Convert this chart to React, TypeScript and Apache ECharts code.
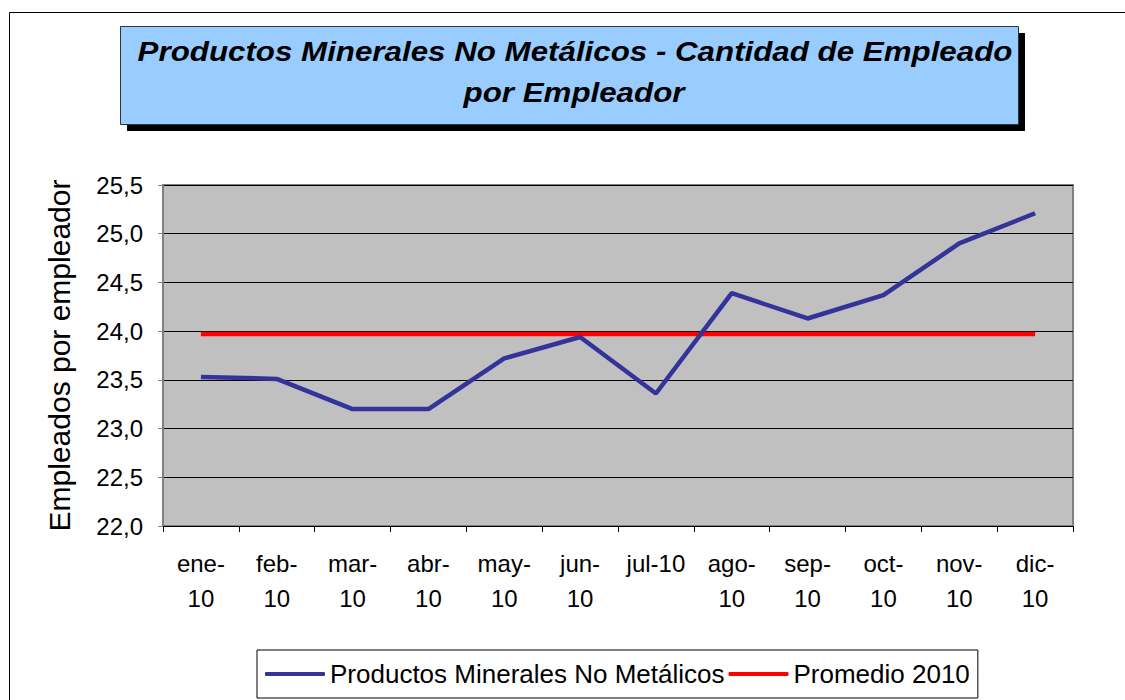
import React, { useEffect, useRef } from "react";
import * as echarts from "echarts";

const categories = ["ene-\n10", "feb-\n10", "mar-\n10", "abr-\n10", "may-\n10", "jun-\n10", "jul-10", "ago-\n10", "sep-\n10", "oct-\n10", "nov-\n10", "dic-\n10"];
const productosValues = [23.53, 23.51, 23.2, 23.2, 23.72, 23.94, 23.36, 24.39, 24.13, 24.37, 24.9, 25.21];
const promedioValues = [23.97, 23.97, 23.97, 23.97, 23.97, 23.97, 23.97, 23.97, 23.97, 23.97, 23.97, 23.97];
const seriesNames = ["Productos Minerales No Metálicos", "Promedio 2010"];
const titleLines = ["Productos Minerales No Metálicos - Cantidad de Empleado", "por Empleador"];
const yAxisName = "Empleados por empleador";

const FONT = "Arial, 'Liberation Sans', sans-serif";

export default function App() {
  const ref = useRef<HTMLDivElement>(null);
  useEffect(() => {
    if (!ref.current) return;
    const chart = echarts.init(ref.current, null, { renderer: "svg" });
    const titleStyle = {
      fontFamily: FONT,
      fontSize: 27,
      fontWeight: "bold",
      fontStyle: "italic",
      fill: "#000",
      align: "center",
      verticalAlign: "middle",
    };
    chart.setOption({
      animation: false,
      backgroundColor: "#ffffff",
      graphic: [
        {
          type: "rect",
          z: -10,
          silent: true,
          shape: { x: 9.5, y: 12.5, width: 1300, height: 900 },
          style: { fill: "none", stroke: "#000", lineWidth: 1 },
        },
        {
          type: "rect",
          z: 10,
          shape: { x: 127, y: 33, width: 898, height: 98 },
          style: { fill: "#000" },
        },
        {
          type: "rect",
          z: 11,
          shape: { x: 120.5, y: 26.5, width: 898, height: 98 },
          style: { fill: "#99CCFF", stroke: "#333", lineWidth: 1 },
        },
        {
          type: "text",
          z: 12,
          x: 575,
          y: 52,
          scaleX: 1.16,
          style: { ...titleStyle, text: titleLines[0] },
        },
        {
          type: "text",
          z: 12,
          x: 574,
          y: 93,
          scaleX: 1.16,
          style: { ...titleStyle, text: titleLines[1] },
        },
      ],
      grid: {
        left: 163,
        right: 52,
        top: 185,
        bottom: 174,
        show: true,
        backgroundColor: "#C0C0C0",
        borderColor: "#808080",
        borderWidth: 2,
      },
      legend: {
        left: 257,
        top: 650,
        padding: [11, 8, 11, 8],
        borderColor: "#000",
        borderWidth: 1,
        itemWidth: 60,
        itemHeight: 4,
        itemGap: 4,
        icon: "roundRect",
        textStyle: { fontFamily: FONT, fontSize: 26, color: "#000", padding: [0, 0, 0, 0] },
        data: seriesNames,
      },
      xAxis: {
        type: "category",
        data: categories,
        boundaryGap: true,
        axisLine: { lineStyle: { color: "#000", width: 1 } },
        axisTick: { show: true, inside: false, length: 6, lineStyle: { color: "#000" }, alignWithLabel: false },
        axisLabel: {
          interval: 0,
          fontFamily: FONT,
          fontSize: 24,
          color: "#000",
          lineHeight: 35,
          margin: 20,
        },
        splitLine: { show: false },
      },
      yAxis: {
        type: "value",
        min: 22,
        max: 25.5,
        interval: 0.5,
        name: yAxisName,
        nameLocation: "middle",
        nameGap: 89,
        nameRotate: 90,
        nameTextStyle: { fontFamily: FONT, fontSize: 30, color: "#000" },
        axisLine: { show: true, lineStyle: { color: "#808080", width: 2 } },
        axisTick: { show: true, inside: false, length: 5, lineStyle: { color: "#808080" } },
        axisLabel: {
          fontFamily: FONT,
          fontSize: 24,
          color: "#000",
          margin: 20,
          formatter: (v: number) => v.toFixed(1).replace(".", ","),
        },
        splitLine: { show: true, lineStyle: { color: "#000", width: 1 } },
      },
      series: [
        {
          name: seriesNames[0],
          type: "line",
          data: productosValues,
          showSymbol: false,
          symbol: "none",
          color: "#333399",
          lineStyle: { color: "#333399", width: 4.5 },
          z: 3,
        },
        {
          name: seriesNames[1],
          type: "line",
          data: promedioValues,
          showSymbol: false,
          symbol: "none",
          color: "#FF0000",
          lineStyle: { color: "#FF0000", width: 4.5 },
          z: 2,
        },
      ],
    });
    return () => chart.dispose();
  }, []);
  return (
    <div
      ref={ref}
      style={{ position: "fixed", left: 0, top: 0, width: 1125, height: 700 }}
    />
  );
}
